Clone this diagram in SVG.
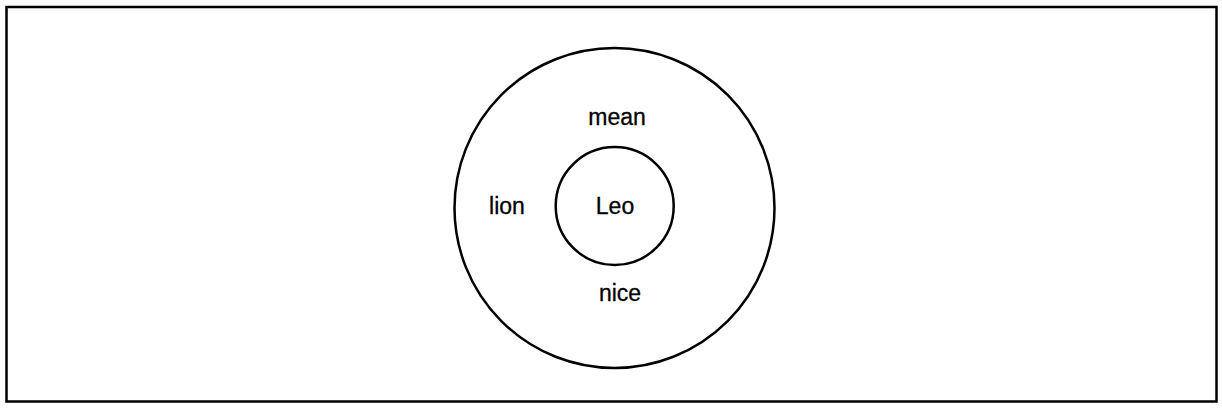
<svg xmlns="http://www.w3.org/2000/svg" width="1222" height="408" viewBox="0 0 1222 408">
<style>
.shape{fill:none;stroke:#000;stroke-width:2.5}
.lbl{font-family:"Liberation Sans",Arial,sans-serif;font-size:23px;fill:#000;stroke:#000;stroke-width:0.3;text-anchor:middle}
</style>
<rect width="1222" height="408" fill="#fff"/>
<rect id="frame" x="6.5" y="7" width="1210" height="394.5" class="shape"/>
<g id="outer">
<circle cx="614.5" cy="208" r="160" class="shape"/>
<text class="lbl" x="617" y="125">mean</text>
<text class="lbl" x="507" y="214">lion</text>
<text class="lbl" x="620" y="301">nice</text>
</g>
<g id="inner">
<circle cx="614.7" cy="206" r="59" class="shape"/>
<text class="lbl" x="615" y="214">Leo</text>
</g>
<g id="connectors"></g>
</svg>
